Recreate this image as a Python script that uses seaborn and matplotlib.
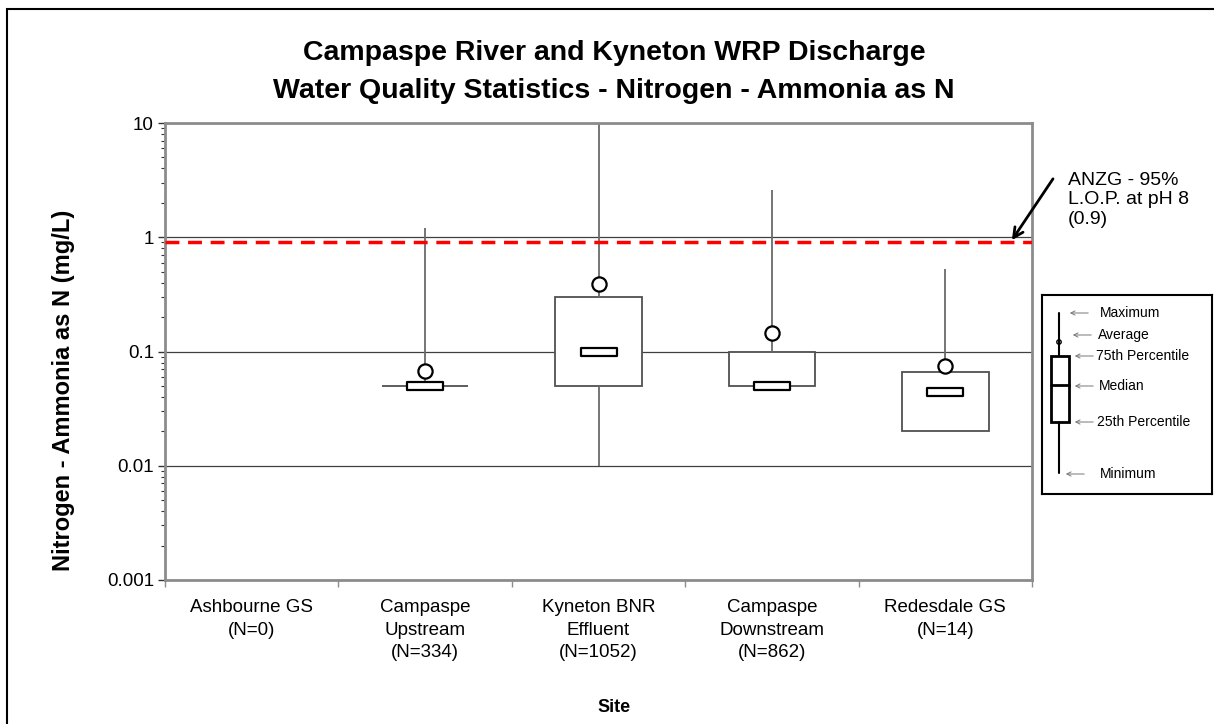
import numpy as np
import pandas as pd
import seaborn as sns
import matplotlib.pyplot as plt
from matplotlib.path import Path
from matplotlib.ticker import FixedLocator, LogLocator, NullFormatter

# summary statistics (mg/L)
sites = ['Ashbourne GS', 'Campaspe Upstream', 'Kyneton BNR Effluent',
         'Campaspe Downstream', 'Redesdale GS']
site_labels = ['Ashbourne GS\n(N=0)', 'Campaspe\nUpstream\n(N=334)',
               'Kyneton BNR\nEffluent\n(N=1052)', 'Campaspe\nDownstream\n(N=862)',
               'Redesdale GS\n(N=14)']
minimum = [np.nan, 0.05, 0.01, 0.05, 0.02]
pct25 = [np.nan, 0.05, 0.05, 0.05, 0.02]
median = [np.nan, 0.05, 0.10, 0.05, 0.044]
pct75 = [np.nan, 0.05, 0.30, 0.10, 0.066]
maximum = [np.nan, 1.2, 10.0, 2.6, 0.53]
average = [np.nan, 0.068, 0.39, 0.145, 0.075]
guideline = 0.9
y_ticks = [0.001, 0.01, 0.1, 1, 10]
y_ticklabels = ['0.001', '0.01', '0.1', '1', '10']

sns.set_style('white')
plt.rcParams['font.family'] = ['Liberation Sans', 'DejaVu Sans']
plt.rcParams['text.color'] = 'black'
plt.rcParams['xtick.color'] = 'black'
plt.rcParams['ytick.color'] = 'black'

# five points per site reproduce min / 25th / median / 75th / max exactly
rows = []
for s, a, b, c, d, e in zip(sites, minimum, pct25, median, pct75, maximum):
    if np.isnan(a):
        continue
    for v in (a, b, c, d, e):
        rows.append({'site': s, 'value': v})
df = pd.DataFrame(rows)

W, H = 1214, 724
fig = plt.figure(figsize=(W / 100, H / 100), dpi=100)
ax = fig.add_axes([165 / W, 1 - 580 / H, (1032 - 165) / W, (580 - 123) / H])
ax.set_yscale('log')

sns.boxplot(data=df, x='site', y='value', order=sites, whis=(0, 100), width=0.5,
            color='white', linecolor='#505050', linewidth=1.3, showcaps=False,
            medianprops={'visible': False},
            whiskerprops={'color': '#6a6a6a', 'linewidth': 1.3}, ax=ax)

# median markers: small open rectangles
rect = Path([(-2.5, -0.5), (2.5, -0.5), (2.5, 0.5), (-2.5, 0.5), (-2.5, -0.5)],
            [Path.MOVETO, Path.LINETO, Path.LINETO, Path.LINETO, Path.CLOSEPOLY])
pos = np.arange(len(sites))
ax.scatter(pos, median, marker=rect, s=640, facecolor='white',
           edgecolor='black', linewidth=1.6, zorder=5)
# averages: open circles
ax.scatter(pos, average, marker='o', s=105, facecolor='white',
           edgecolor='black', linewidth=1.6, zorder=5)

ax.axhline(guideline, color='#ff0000', lw=2.5, ls=(0, (4, 2.5)), zorder=4)

ax.set_xlim(-0.5, len(sites) - 0.5)
ax.set_ylim(0.001, 10)
ax.set_xticks(pos)
ax.set_xticklabels(site_labels, fontsize=13.5, linespacing=1.4)
ax.xaxis.set_minor_locator(FixedLocator(np.arange(-0.5, len(sites), 1.0)))
ax.tick_params(axis='x', which='major', length=0, pad=14)
ax.tick_params(axis='x', which='minor', length=5, width=1, color='#8c8c8c',
               direction='out', bottom=True)
ax.set_yticks(y_ticks)
ax.set_yticklabels(y_ticklabels, fontsize=13.5)
ax.yaxis.set_minor_locator(LogLocator(base=10, subs=np.arange(2, 10)))
ax.yaxis.set_minor_formatter(NullFormatter())
ax.tick_params(axis='y', which='major', length=5, width=1, color='#333333',
               direction='out', left=True, pad=3)
ax.tick_params(axis='y', which='minor', length=3, width=0.8, color='#333333',
               direction='out', left=True)
ax.set_xlabel('')
ax.set_ylabel('')

ax.yaxis.grid(True, which='major', color='#404040', lw=0.9)
ax.set_axisbelow(True)
for sp in ax.spines.values():
    sp.set_color('#8c8c8c')
    sp.set_linewidth(2)
    sp.set_visible(True)

# guideline annotation
ax.annotate('', xy=(4.375, guideline), xytext=(4.63, 3.4),
            arrowprops=dict(arrowstyle='->,head_length=0.7,head_width=0.35',
                            lw=2, color='black'),
            annotation_clip=False, zorder=6)
fig.text(1068 / W, 1 - 172 / H, 'ANZG - 95%\nL.O.P. at pH 8\n(0.9)',
         fontsize=14, va='top', ha='left', linespacing=1.18)

# titles
fig.text(614 / W, 1 - 72 / H,
         'Campaspe River and Kyneton WRP Discharge\n'
         'Water Quality Statistics - Nitrogen - Ammonia as N',
         fontsize=20.5, fontweight='bold', ha='center', va='center', linespacing=1.6)
fig.text(64 / W, 1 - 390 / H, 'Nitrogen - Ammonia as N (mg/L)', fontsize=17,
         fontweight='bold', rotation=90, ha='center', va='center')
fig.text(614 / W, 1 - 707 / H, 'Site', fontsize=13, fontweight='bold',
         ha='center', va='center')

# box-and-whisker key
lx0, ly0, lw_, lh_ = 1042, 295, 170, 199
lg = fig.add_axes([lx0 / W, 1 - (ly0 + lh_) / H, lw_ / W, lh_ / H])
lg.set_xlim(0, lw_)
lg.set_ylim(lh_, 0)
lg.set_xticks([])
lg.set_yticks([])
for sp in lg.spines.values():
    sp.set_color('black')
    sp.set_linewidth(1.5)
cx = 17
lg.plot([cx, cx], [18, 61], color='black', lw=1.5)
lg.plot([cx, cx], [127, 178], color='black', lw=1.5)
lg.add_patch(plt.Rectangle((9, 61), 18, 66, facecolor='white', edgecolor='black', lw=2))
lg.plot([9, 27], [90, 90], color='black', lw=2)
lg.add_patch(plt.Circle((cx, 47), 2.2, facecolor='white', edgecolor='black', lw=1))
key_items = [('Maximum', 18, 25, 58), ('Average', 40, 28, 56), ('75th Percentile', 61, 30, 54),
             ('Median', 91, 30, 57), ('25th Percentile', 127, 30, 55), ('Minimum', 179, 21, 58)]
for txt, yy, x_tip, x_txt in key_items:
    lg.annotate('', xy=(x_tip, yy), xytext=(x_tip + 24, yy),
                arrowprops=dict(arrowstyle='->,head_length=0.3,head_width=0.15',
                                lw=0.7, color='#777777'))
    lg.text(x_txt, yy, txt, fontsize=10, va='center', ha='left')

# outer frame
fig.add_artist(plt.Rectangle((7 / W, -0.1), 1.2, 1 - 9 / H + 0.1,
                             transform=fig.transFigure, fill=False,
                             edgecolor='black', lw=1.5))

fig.savefig('out.png', dpi=100)
